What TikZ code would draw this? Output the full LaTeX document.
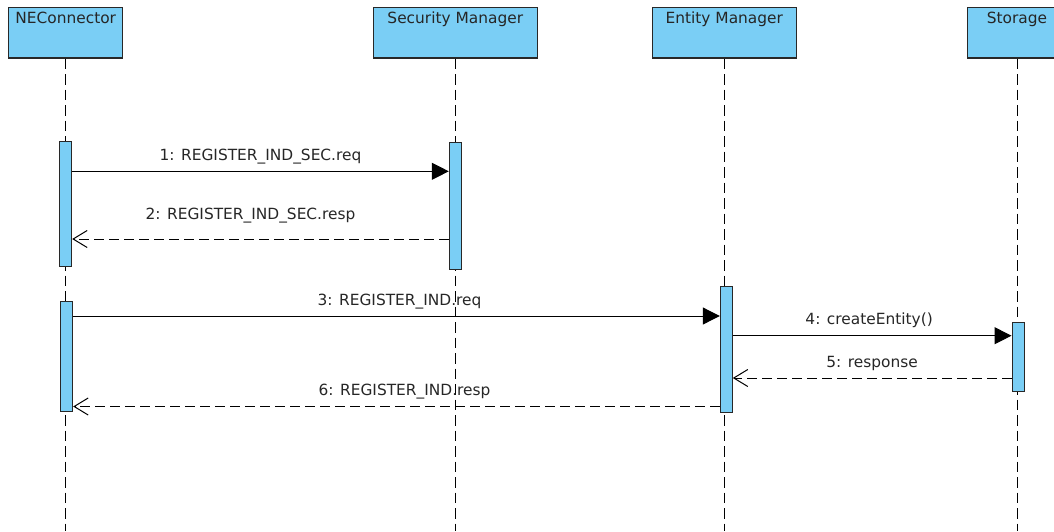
\documentclass[tikz,border=0pt]{standalone}
\usepackage{fontspec}
\setmainfont{DejaVu Sans}
\usetikzlibrary{arrows.meta}
\definecolor{lifeblue}{RGB}{122,206,245}
\definecolor{boxline}{RGB}{40,40,40}

\begin{document}
\begin{tikzpicture}[x = 1pt, y = -1pt]
		\tikzset{every node/.style = {font = \fontsize{15.4}{18}\selectfont, text = black!85},
			lifebox/.style = {draw = boxline, fill = lifeblue, line width = 1.2pt, inner sep = 0pt, anchor = north, text height = 16.6pt, text depth = 34pt},
			activebar/.style = {draw = boxline, fill = lifeblue, line width = 1pt, inner sep = 0pt, anchor = north, minimum width = 12pt},
			lifeline/.style = {line width = 1pt, dash pattern = on 10.5pt off 5pt},
			call/.style = {line width = 1pt, -{Triangle[length = 17pt, width = 17pt]}},
			reply/.style = {line width = 1pt, dash pattern = on 10pt off 5pt, -{Straight Barb[length = 14pt, width = 17pt]}},
			msglabel/.style = {anchor = base, yshift = 11pt}}
		\useasboundingbox (0,0) rectangle (1054,531);
		\clip (0,0) rectangle (1054,531);
		\coordinate (bottom) at (0,531);
		% lifelines
		\node[lifebox, minimum width = 114pt] (NE) at (65.7,6.7){NEConnector};
		\node[lifebox, minimum width = 164pt] (SM) at (455.3,6.7){Security Manager};
		\node[lifebox, minimum width = 144pt] (EM) at (724.3,6.7){Entity Manager};
		\node[lifebox, minimum width = 98.6pt] (ST) at (1017,6.7){Storage};
		\foreach \who in {NE,SM,EM,ST}
			\draw[lifeline] (\who.south) -- (\who.south |- bottom);
		% activations
		\node[activebar, minimum height = 125.3pt] (NEa) at (NE.south |- 0,140.7){};
		\node[activebar, minimum height = 126.7pt] (SMa) at (SM.south |- 0,142){};
		\node[activebar, minimum height = 110pt, xshift = 1pt] (NEb) at (NE.south |- 0,301){};
		\node[activebar, minimum height = 126pt, xshift = 2pt] (EMa) at (EM.south |- 0,285.7){};
		\node[activebar, minimum height = 69.3pt, xshift = 1pt] (STa) at (ST.south |- 0,321.7){};
		% messages
		\coordinate (m1) at (0,171.3);
		\coordinate (m2) at (0,239);
		\coordinate (m3) at (0,316);
		\coordinate (m4) at (0,335.7);
		\coordinate (m5) at (0,378);
		\coordinate (m6) at (0,406.5);
		\draw[call] (NEa.east |- m1) -- node[msglabel]{1: REGISTER\_IND\_SEC.req} (SMa.west |- m1);
		\draw[reply] (SMa.west |- m2) -- node[msglabel, yshift = 9pt, xshift = -10pt]{2: REGISTER\_IND\_SEC.resp} (NEa.east |- m2);
		\draw[call] (NEb.east |- m3) -- node[msglabel, xshift = 3pt]{3: REGISTER\_IND.req} (EMa.west |- m3);
		\draw[call] (EMa.east |- m4) -- node[msglabel, xshift = -3pt]{4: createEntity()} (STa.west |- m4);
		\draw[reply] (STa.west |- m5) -- node[msglabel]{5: response} (EMa.east |- m5);
		\draw[reply] (EMa.west |- m6) -- node[msglabel, xshift = 8pt]{6: REGISTER\_IND.resp} (NEb.east |- m6);
	\end{tikzpicture}
\end{document}
